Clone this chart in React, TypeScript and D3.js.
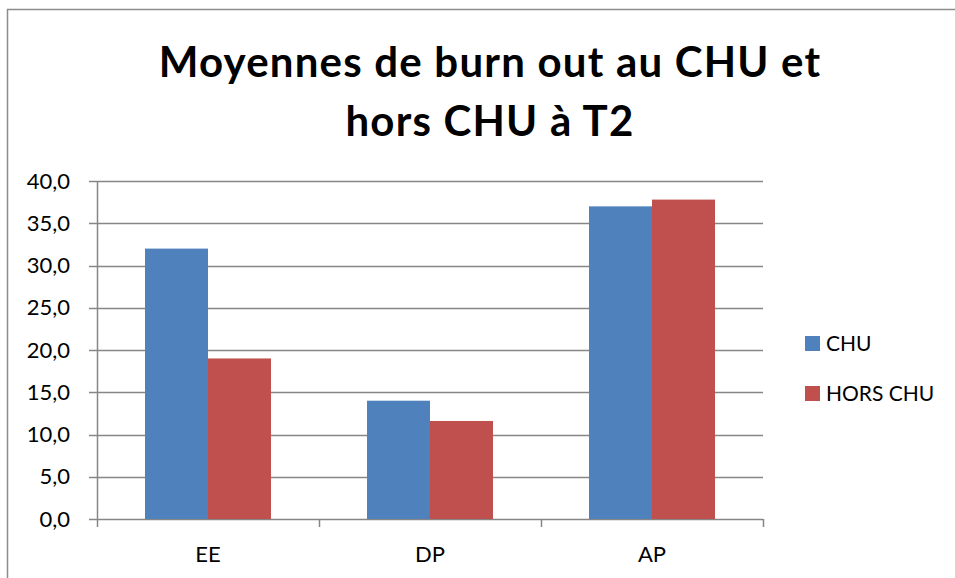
import { useRef, useEffect } from "react"
import * as d3 from "d3"

const categories = ["EE", "DP", "AP"]
const seriesNames = ["CHU", "HORS CHU"]
const chuValues = [32.0, 14.0, 37.0]
const horsChuValues = [19.0, 11.6, 37.8]
const yTicks = [0, 5, 10, 15, 20, 25, 30, 35, 40]
const colors = ["#4F81BD", "#C0504D"]

const FONT = "Lato, 'Open Sans', sans-serif"

const App = () => {
  const svgRef = useRef<SVGSVGElement>(null)

  useEffect(() => {
    const root = d3.select(svgRef.current)
    root.selectAll("*").remove()

    const W = 955
    const H = 578
    const margin = { top: 181, left: 97, right: 192, bottom: 59 }
    const width = W - margin.left - margin.right
    const height = H - margin.top - margin.bottom

    root.attr("width", W).attr("height", H)
    root.append("rect").attr("width", W).attr("height", H).attr("fill", "#fff")

    // chart frame
    root
      .append("rect")
      .attr("x", 7.5)
      .attr("y", 9.5)
      .attr("width", W + 20)
      .attr("height", H + 20)
      .attr("fill", "none")
      .attr("stroke", "#8c8c8c")
      .attr("stroke-width", 1.5)

    // title
    const title = root
      .append("text")
      .attr("text-anchor", "middle")
      .style("font-family", FONT)
      .style("font-weight", "bold")
      .style("font-size", "42px")
      .style("letter-spacing", "1.2px")
      .attr("fill", "#000")
    title.append("tspan").attr("x", 490).attr("y", 77).text("Moyennes de burn out au CHU et")
    title.append("tspan").attr("x", 490).attr("y", 136).text("hors CHU à T2")

    const g = root.append("g").attr("transform", `translate(${margin.left},${margin.top})`)

    const x = d3.scaleBand().domain(categories).range([0, width]).paddingInner(0).paddingOuter(0)
    const inner = d3.scaleBand().domain(seriesNames).range([48, x.bandwidth() - 48])
    const y = d3.scaleLinear().domain([0, 40]).range([height, 0])

    // grid lines
    g.selectAll(".grid")
      .data(yTicks)
      .enter()
      .append("line")
      .attr("x1", -8)
      .attr("x2", width)
      .attr("y1", (d) => Math.round(y(d)) + 0.5)
      .attr("y2", (d) => Math.round(y(d)) + 0.5)
      .attr("stroke", "#868686")
      .attr("stroke-width", 1.5)

    // y axis line
    g.append("line")
      .attr("x1", 0.5)
      .attr("x2", 0.5)
      .attr("y1", 0)
      .attr("y2", height)
      .attr("stroke", "#868686")
      .attr("stroke-width", 1.5)

    // y labels
    g.selectAll(".ylab")
      .data(yTicks)
      .enter()
      .append("text")
      .attr("x", -27)
      .attr("y", (d) => y(d))
      .attr("dy", "0.35em")
      .attr("text-anchor", "end")
      .style("font-family", FONT)
      .style("font-size", "22px")
      .text((d) => d.toFixed(1).replace(".", ","))

    // x ticks
    const bounds = categories.map((c) => x(c)!).concat([width])
    g.selectAll(".xtick")
      .data(bounds)
      .enter()
      .append("line")
      .attr("x1", (d) => Math.round(d) + 0.5)
      .attr("x2", (d) => Math.round(d) + 0.5)
      .attr("y1", height)
      .attr("y2", height + 8)
      .attr("stroke", "#868686")
      .attr("stroke-width", 1.5)

    // x labels
    g.selectAll(".xlab")
      .data(categories)
      .enter()
      .append("text")
      .attr("x", (d) => x(d)! + x.bandwidth() / 2)
      .attr("y", height + 43)
      .attr("text-anchor", "middle")
      .style("font-family", FONT)
      .style("font-size", "22px")
      .text((d) => d)

    // bars
    const series = [chuValues, horsChuValues]
    series.forEach((vals, si) => {
      g.selectAll(`.bar${si}`)
        .data(categories)
        .enter()
        .append("rect")
        .attr("x", (d) => x(d)! + inner(seriesNames[si])!)
        .attr("y", (d, i) => y(vals[i]))
        .attr("width", inner.bandwidth())
        .attr("height", (d, i) => height - y(vals[i]))
        .attr("fill", colors[si])
    })

    // legend
    const legend = root.append("g").attr("transform", "translate(805,336)")
    seriesNames.forEach((name, i) => {
      legend
        .append("rect")
        .attr("x", 0)
        .attr("y", i * 50)
        .attr("width", 15)
        .attr("height", 15)
        .attr("fill", colors[i])
      legend
        .append("text")
        .attr("x", 21)
        .attr("y", i * 50 + 8)
        .attr("dy", "0.35em")
        .style("font-family", FONT)
        .style("font-size", "21px")
        .text(name)
    })
  }, [])

  return (
    <div style={{ position: "absolute", left: 0, top: 0 }}>
      <svg ref={svgRef}></svg>
    </div>
  )
}

export default App
